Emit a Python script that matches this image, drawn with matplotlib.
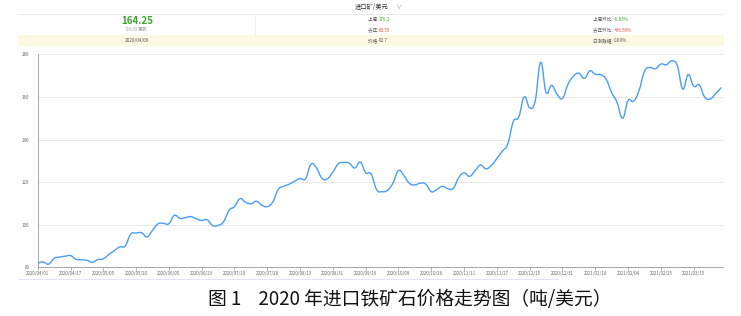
import matplotlib
matplotlib.use("Agg")
import matplotlib.pyplot as plt
import numpy as np
from matplotlib.lines import Line2D
from matplotlib.patches import Rectangle, PathPatch
from matplotlib.path import Path

plt.rcParams['font.family'] = ['Noto Sans CJK SC', 'DejaVu Sans']

# price readings, one every second trading day (USD/t)
prices = [
    81.9, 82.5, 81.5, 84.2, 84.8, 85.2, 85.5, 83.8, 83.5, 83.3,
    82.4, 83.6, 84.0, 86.0, 87.8, 89.6, 90.0, 95.5, 96.1, 96.2,
    94.3, 97.3, 100.4, 100.6, 100.5, 104.4, 103.0, 103.3, 103.8, 102.8,
    102.0, 102.3, 99.6, 99.7, 101.4, 106.7, 108.5, 112.2, 110.6, 109.8,
    111.0, 109.2, 108.5, 110.7, 116.5, 118.0, 119.0, 120.4, 121.7, 121.6,
    128.4, 126.6, 121.8, 121.6, 124.7, 128.6, 129.2, 128.9, 126.6, 129.4,
    124.4, 123.8, 116.5, 115.5, 116.2, 119.6, 125.4, 123.0, 119.4, 118.7,
    119.5, 119.0, 115.5, 116.5, 118.0, 117.0, 117.0, 122.0, 124.3, 122.7,
    125.3, 128.0, 126.2, 127.9, 131.1, 134.5, 138.0, 148.4, 150.6, 160.0,
    154.9, 158.1, 176.2, 162.1, 165.4, 161.3, 159.3, 165.9, 169.7, 171.1,
    168.7, 172.2, 170.6, 170.4, 168.2, 162.0, 157.3, 150.0, 158.3, 158.0,
    163.0, 172.0, 173.8, 173.2, 175.4, 175.1, 176.9, 174.7, 163.7, 170.5,
    165.0, 165.6, 160.0, 159.0, 161.5, 164.25,
]
tick_dates = [
    "2020/04/01", "2020/04/17", "2020/05/05", "2020/05/20", "2020/06/05",
    "2020/06/23", "2020/07/10", "2020/07/28", "2020/08/13", "2020/08/31",
    "2020/09/16", "2020/10/09", "2020/10/26", "2020/11/11", "2020/11/27",
    "2020/12/15", "2020/12/31", "2021/01/19", "2021/02/04", "2021/02/25",
    "2021/03/15",
]
y_ticks = [80, 100, 120, 140, 160, 180]

fig = plt.figure(figsize=(7.41, 3.16), dpi=100)
W, H = 741, 316

def fx(px):
    return px / W

def fy(py):
    return 1 - py / H

# header panel
fig.text(fx(372), fy(7), "进口矿/美元", fontsize=4.5, color="#333333", ha="center", va="center")
fig.text(fx(398), fy(7), "∨", fontsize=4.5, color="#999999", ha="center", va="center")
fig.add_artist(Line2D([fx(18), fx(724)], [fy(14), fy(14)], color="#e6e6e6", lw=0.6))
fig.add_artist(Line2D([fx(255), fx(255)], [fy(16), fy(34)], color="#eeeeee", lw=0.6))
fig.text(fx(137), fy(20.5), "164.25", fontsize=7, color="#3aa52a", weight="bold", ha="center", va="center")
fig.text(fx(137), fy(29.5), "03-31 更新", fontsize=3.2, color="#999999", ha="center", va="center")

def pair(x, y, label, value, color):
    fig.text(fx(x), fy(y), label, fontsize=3.3, color="#555555", ha="right", va="center")
    fig.text(fx(x), fy(y), value, fontsize=3.3, color=color, ha="left", va="center")

pair(379, 19.5, "上周: ", "176.2", "#3aa52a")
pair(379, 30, "去年: ", "83.55", "#f04848")
pair(614, 19.5, "上周环比: ", "-6.83%", "#3aa52a")
pair(614, 30, "去年环比: ", "+96.59%", "#f04848")

fig.add_artist(Rectangle((fx(18), fy(45.5)), fx(706), 10.5 / H, transform=fig.transFigure,
                         facecolor="#fdf8e1", edgecolor="none"))
fig.text(fx(137), fy(40.5), "2020/04/06", fontsize=3.3, color="#555555", ha="center", va="center")
pair(379, 40.5, "价格: ", "82.7", "#555555")
pair(614, 40.5, "日涨跌幅: ", "0.00%", "#555555")

# main chart
ax = fig.add_axes([fx(37.7), fy(267.3), fx(723.5 - 37.7), (267.3 - 54.3) / H])
xs = np.arange(len(prices), dtype=float)
ys = np.array(prices)

# smooth line drawn as cubic bezier segments through every reading
s = 0.22
verts = [(xs[0], ys[0])]
codes = [Path.MOVETO]
for i in range(len(xs) - 1):
    p0 = max(i - 1, 0)
    p3 = min(i + 2, len(xs) - 1)
    c1 = (xs[i] + s * (xs[i + 1] - xs[p0]), ys[i] + s * (ys[i + 1] - ys[p0]))
    c2 = (xs[i + 1] - s * (xs[p3] - xs[i]), ys[i + 1] - s * (ys[p3] - ys[i]))
    verts += [c1, c2, (xs[i + 1], ys[i + 1])]
    codes += [Path.CURVE4] * 3
ax.add_patch(PathPatch(Path(verts, codes), facecolor="none", edgecolor="#4a9df5",
                       lw=1.0, capstyle="round", joinstyle="round"))

ax.set_xlim(0, (723.5 - 37.7) / (32.8 / 6))
ax.set_ylim(80, 180)
ax.set_yticks(y_ticks)
ax.set_yticklabels([str(v) for v in y_ticks])
ax.set_xticks(list(range(0, 6 * len(tick_dates), 6)))
ax.set_xticklabels(tick_dates)
ax.tick_params(axis="y", length=0, labelsize=3.2, labelcolor="#666666", pad=6)
ax.tick_params(axis="x", length=2, width=0.5, color="#999999", labelsize=3.2, labelcolor="#666666", pad=1)
ax.grid(axis="y", color="#e8e8e8", lw=0.7)
ax.set_axisbelow(True)
for side in ["top", "right"]:
    ax.spines[side].set_visible(False)
for side in ["left", "bottom"]:
    ax.spines[side].set_color("#999999")
    ax.spines[side].set_linewidth(0.6)

fig.add_artist(Line2D([fx(18), fx(558)], [fy(279), fy(279)], color="#dde6f3", lw=0.7))

fig.text(fx(410), fy(299), "图 1    2020 年进口铁矿石价格走势图（吨/美元）", fontsize=13.5,
         color="#111111", ha="center", va="center")

fig.savefig("out.png", dpi=100)
